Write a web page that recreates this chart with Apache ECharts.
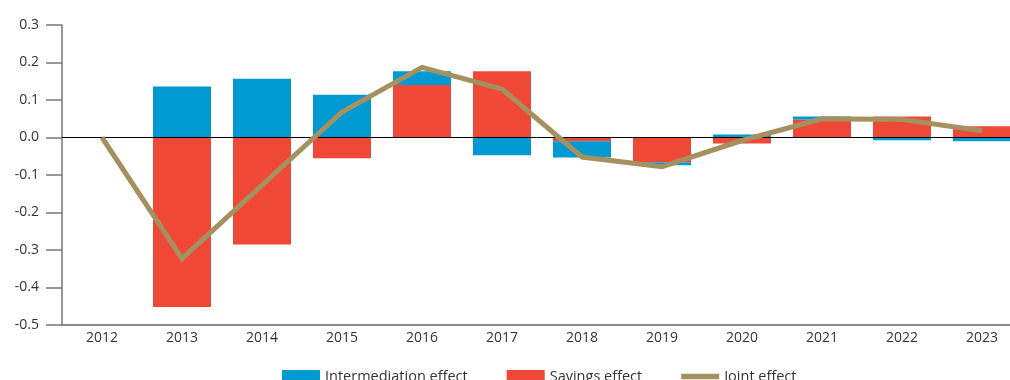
<!DOCTYPE html>
<html>
<head>
<meta charset="utf-8">
<script src="https://cdn.jsdelivr.net/npm/echarts@6/dist/echarts.min.js"></script>
<style>
  html, body { margin: 0; padding: 0; background: #fff; }
  #chart { width: 1010px; height: 380px; }
</style>
</head>
<body>
<div id="chart"></div>
<script>
// Yearly decomposition: savings and intermediation effects, and their joint effect
const years = ['2012', '2013', '2014', '2015', '2016', '2017', '2018', '2019', '2020', '2021', '2022', '2023'];
const savingsEffect = [null, -0.452, -0.285, -0.055, 0.140, 0.177, -0.010, -0.066, -0.016, 0.048, 0.056, 0.030];
const intermediationEffect = [null, 0.136, 0.157, 0.114, 0.037, -0.047, -0.043, -0.008, 0.008, 0.008, -0.007, -0.010];
const jointEffect = [0.000, -0.323, -0.127, 0.068, 0.187, 0.129, -0.052, -0.078, -0.008, 0.050, 0.048, 0.018];
const legendNames = ['Intermediation effect', 'Savings effect', 'Joint effect'];

const BLUE = '#0099d1';
const RED = '#ef4837';
const GOLD = '#a5915f';
const FONT = '"Open Sans", "DejaVu Sans", sans-serif';

const chart = echarts.init(document.getElementById('chart'), null, { renderer: 'canvas' });

chart.setOption({
  animation: false,
  textStyle: { fontFamily: FONT },
  // plot runs past the right edge of the canvas, so the last bar is clipped
  grid: { left: 62, width: 960, top: 25, bottom: 55, containLabel: false, outerBoundsMode: 'none' },
  legend: {
    left: 282,
    top: 369,
    padding: 0,
    itemWidth: 38,
    itemHeight: 13,
    itemGap: 39,
    textStyle: { fontFamily: FONT, fontSize: 14.5, color: '#333' },
    data: [
      { name: legendNames[0], icon: 'rect' },
      { name: legendNames[1], icon: 'rect' },
      { name: legendNames[2], icon: 'path://M0,0h40v6h-40z' }
    ]
  },
  xAxis: {
    type: 'category',
    data: years,
    boundaryGap: true,
    axisLine: { show: true, onZero: false, lineStyle: { color: '#8a8a8a', width: 2 } },
    axisTick: { show: false },
    axisLabel: { color: '#333', fontSize: 14, margin: 6, fontFamily: FONT },
    splitLine: { show: false }
  },
  yAxis: {
    type: 'value',
    min: -0.5,
    max: 0.3,
    interval: 0.1,
    axisLine: { show: true, lineStyle: { color: '#777', width: 1.5 } },
    axisTick: { show: true, length: 16, inside: false, lineStyle: { color: '#777', width: 1.5 } },
    axisLabel: {
      color: '#333', fontSize: 14, margin: 23, fontFamily: FONT,
      formatter: v => v.toFixed(1)
    },
    splitLine: { show: false }
  },
  series: [
    {
      name: legendNames[1],
      type: 'bar',
      stack: 'effects',
      data: savingsEffect,
      barCategoryGap: '27.5%',
      itemStyle: { color: RED },
      markLine: {
        silent: true,
        symbol: 'none',
        label: { show: false },
        lineStyle: { color: '#000', width: 1, type: 'solid' },
        data: [{ yAxis: 0 }]
      }
    },
    {
      name: legendNames[0],
      type: 'bar',
      stack: 'effects',
      data: intermediationEffect,
      barCategoryGap: '27.5%',
      itemStyle: { color: BLUE }
    },
    {
      name: legendNames[2],
      type: 'line',
      data: jointEffect,
      symbol: 'none',
      showSymbol: false,
      z: 5,
      itemStyle: { color: GOLD },
      lineStyle: { color: GOLD, width: 5, join: 'miter' }
    }
  ]
});
</script>
</body>
</html>
